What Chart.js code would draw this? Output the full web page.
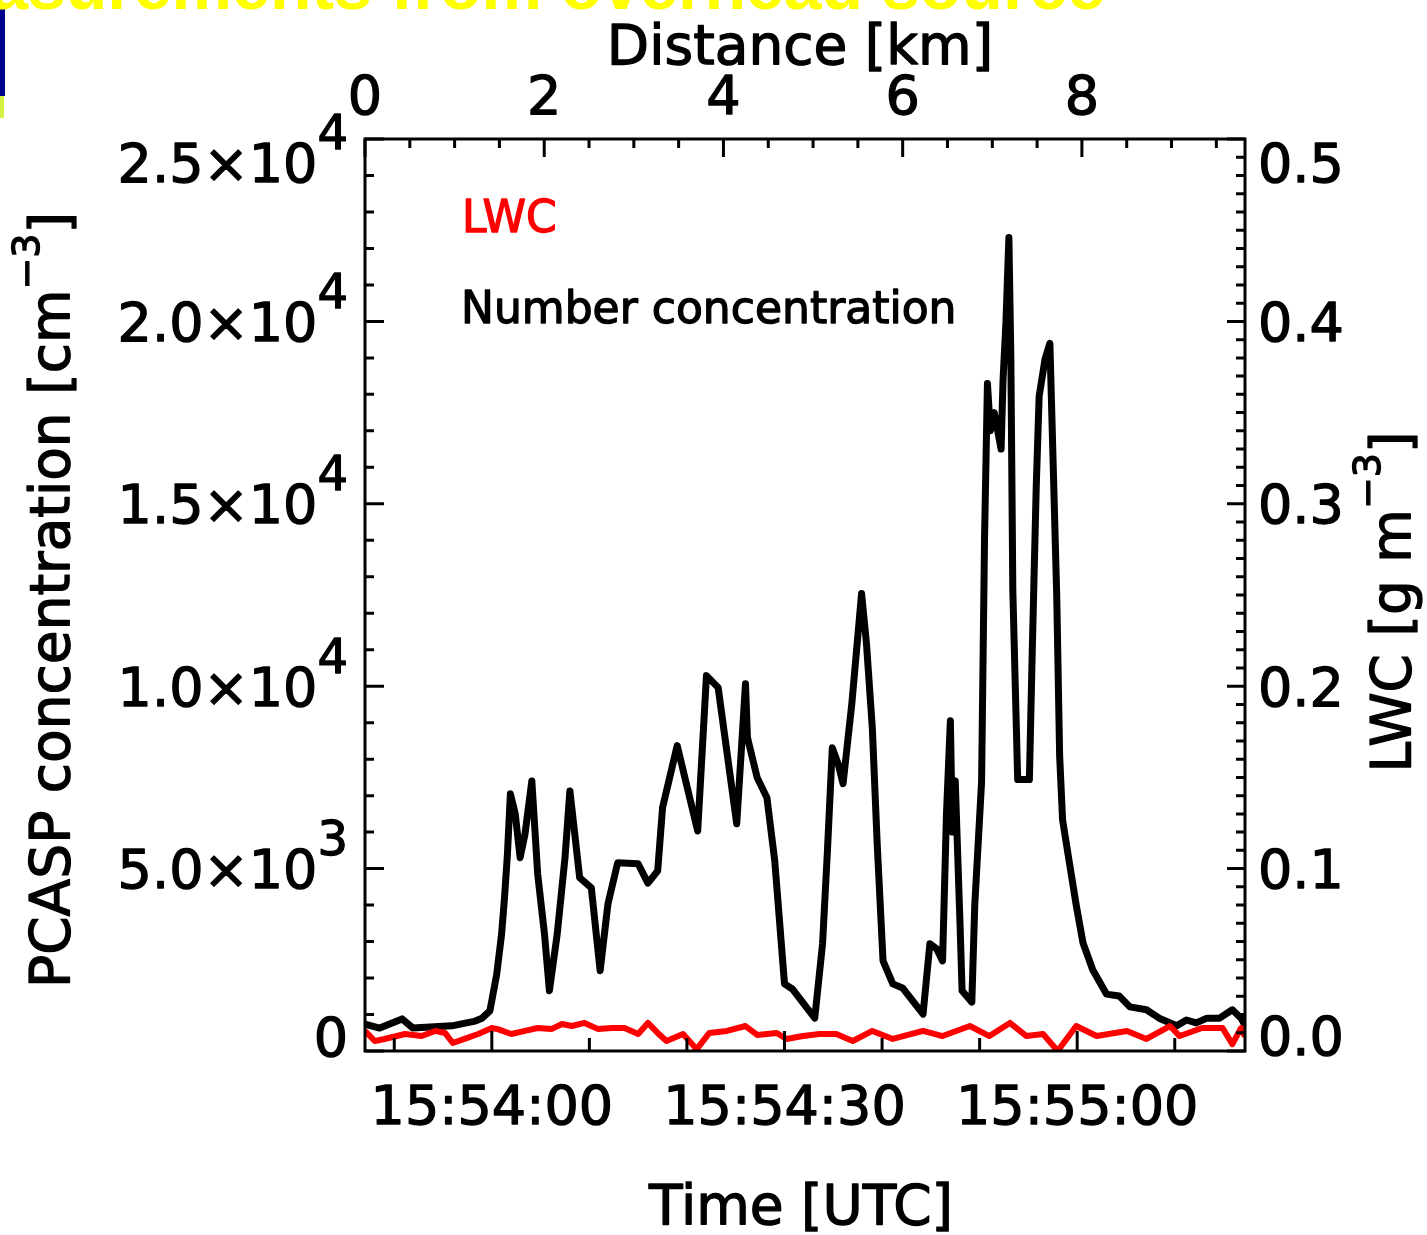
<!DOCTYPE html>
<html><head><meta charset="utf-8">
<script src="https://cdn.jsdelivr.net/npm/chart.js@4"></script>
<style>html,body{margin:0;padding:0;background:#fff;}canvas{display:block}</style>
</head><body>
<canvas id="c" width="1427" height="1235"></canvas>
<script>
// Time in seconds relative to 15:54:00 UTC
const pcaspTime = [-13.0,-11.5,-9.2,-8.1,-4.1,-1.7,-1.0,-0.2,0.5,1.0,1.3,1.6,1.9,2.4,2.9,3.4,4.1,4.7,5.4,5.9,6.7,7.5,8.0,8.5,9.0,10.2,11.1,11.9,12.9,15.0,16.0,17.0,17.5,19.0,21.1,22.0,23.2,25.1,26.0,26.2,27.2,28.2,29.0,30.0,30.8,33.1,33.9,34.4,34.9,35.5,36.0,36.9,37.9,38.4,39.0,39.5,40.1,41.1,42.1,44.2,44.9,45.6,46.2,46.6,47.0,47.2,47.5,48.0,48.2,49.2,49.5,50.2,50.5,50.8,51.1,51.5,52.2,52.4,52.7,53.0,53.2,53.4,53.9,55.1,55.4,55.8,56.1,56.7,57.2,57.5,57.9,58.2,58.5,59.2,59.9,60.6,61.6,63.0,64.3,65.4,67.1,68.4,70.2,71.2,72.2,73.3,74.6,75.9,76.8,77.2];
// PCASP number concentration [cm^-3]
const pcaspConc = [740,630,880,630,690,820,900,1100,2100,3200,4200,5400,7050,6500,5300,5950,7400,4850,3200,1650,3200,5300,7130,5950,4750,4470,2200,4030,5160,5130,4600,4940,6670,8370,6030,10290,9960,6230,10070,8590,7490,6940,5210,1840,1700,900,2940,5490,8310,7870,7330,9520,12540,11170,8860,5680,2470,1840,1730,1010,2940,2800,2470,6500,9050,6000,7400,3400,1650,1340,4000,7380,14000,18300,17000,17500,16500,18400,20000,22300,19000,12650,7440,7440,11030,15450,17950,18960,19400,16460,12510,8100,6340,5160,4000,2960,2220,1560,1510,1210,1130,900,690,850,770,900,900,1130,900,700];
// LWC sample times (s after 15:54:00) and values [g m^-3]
const lwcTime = [-13.0,-12.0,-11.0,-8.9,-7.2,-5.8,-4.8,-4.0,-2.8,-1.4,0.0,0.6,2.0,3.4,4.7,6.1,7.2,8.2,9.5,10.9,12.3,13.6,15.0,16.0,17.0,17.9,19.6,21.0,22.3,24.1,26.0,27.2,29.2,30.2,31.9,33.6,35.3,37.0,39.0,41.1,44.2,46.2,49.0,51.0,53.1,54.8,56.5,58.0,59.9,62.0,65.1,67.1,69.5,70.5,72.8,74.9,75.9,76.8,77.2];
const lwcValue = [0.011,0.0055,0.0066,0.0093,0.0082,0.011,0.0099,0.0044,0.0066,0.0093,0.0126,0.012,0.0093,0.011,0.0126,0.012,0.0148,0.0137,0.0154,0.012,0.0126,0.0126,0.0093,0.0154,0.0099,0.0055,0.0093,0.001,0.0099,0.011,0.0137,0.0088,0.0099,0.0066,0.0082,0.0093,0.0093,0.0055,0.011,0.0066,0.011,0.0082,0.0137,0.0082,0.0154,0.0082,0.0093,0.0,0.0137,0.0082,0.011,0.0066,0.0137,0.0082,0.0126,0.0126,0.0038,0.0126,0.008];
// Axis ranges and tick labels
const timeRange = [-13.0, 77.2];
const timeTickValues = [0, 30, 60];
const timeTickLabels = ['15:54:00','15:54:30','15:55:00'];
const distRange = [0, 9.82];
const distTickValues = [0,2,4,6,8];
const distTickLabels = ['0','2','4','6','8'];
const concTickValues = [0,5000,10000,15000,20000,25000];
const concTickMant = ['0','5.0×10','1.0×10','1.5×10','2.0×10','2.5×10'];
const concTickExp = ['','3','4','4','4','4'];
const lwcTickValues = [0,0.1,0.2,0.3,0.4,0.5];
const lwcTickLabels = ['0.0','0.1','0.2','0.3','0.4','0.5'];

const F = 'DejaVu Sans';
const TH = 1.3; // text thickening stroke

function txt(ctx, s, x, y) {
  ctx.fillText(s, x, y);
  ctx.lineWidth = TH;
  ctx.strokeStyle = ctx.fillStyle;
  ctx.strokeText(s, x, y);
}

function supText(ctx, parts, x, y, align) {
  let total = 0;
  parts.forEach(p => { ctx.font = p[1] + 'px "' + F + '"'; total += ctx.measureText(p[0]).width; });
  let cx = align === 'right' ? x - total : (align === 'center' ? x - total / 2 : x);
  ctx.textAlign = 'left';
  parts.forEach(p => {
    ctx.font = p[1] + 'px "' + F + '"';
    txt(ctx, p[0], cx, y - p[2]);
    cx += ctx.measureText(p[0]).width;
  });
}

const deco = {
  id: 'deco',
  beforeDraw(chart) {
    const ctx = chart.ctx;
    ctx.save();
    ctx.fillStyle = '#fff';
    ctx.fillRect(0, 0, chart.width, chart.height);
    ctx.fillStyle = '#00008c';
    ctx.fillRect(0, 8, 5, 88);
    ctx.fillStyle = '#d8f040';
    ctx.fillRect(0, 96, 4, 22);
    ctx.fillStyle = '#ffff00';
    ctx.font = 'bold 68px "Liberation Sans"';
    ctx.textAlign = 'right';
    ctx.textBaseline = 'alphabetic';
    ctx.fillText('Measurements from overhead source', 1105, 9);
    ctx.restore();
  },
  afterDraw(chart) {
    const ctx = chart.ctx;
    const a = chart.chartArea;
    const sx = chart.scales.x, st = chart.scales.xTop, sy = chart.scales.y, sr = chart.scales.y2;
    ctx.save();
    ctx.strokeStyle = '#000';
    ctx.fillStyle = '#000';
    ctx.lineWidth = 3;
    ctx.lineCap = 'butt';
    ctx.strokeRect(a.left, a.top, a.right - a.left, a.bottom - a.top);
    ctx.beginPath();
    for (let v = 0; v <= 25000; v += 1000) {
      const p = sy.getPixelForValue(v), L = v % 5000 === 0 ? 19 : 9;
      ctx.moveTo(a.left, p); ctx.lineTo(a.left + L, p);
    }
    for (let i = 0; i <= 50; i++) {
      const p = sr.getPixelForValue(i / 100), L = i % 10 === 0 ? 18 : 9;
      ctx.moveTo(a.right, p); ctx.lineTo(a.right - L, p);
    }
    for (let i = 0; i * 0.5 <= distRange[1]; i++) {
      const p = st.getPixelForValue(i * 0.5), L = i % 4 === 0 ? 18 : 9;
      ctx.moveTo(p, a.top); ctx.lineTo(p, a.top + L);
    }
    for (let t = -10; t <= 70; t += 10) {
      const p = sx.getPixelForValue(t), L = t % 30 === 0 ? 20 : 13;
      ctx.moveTo(p, a.bottom); ctx.lineTo(p, a.bottom - L);
    }
    ctx.stroke();

    ctx.textBaseline = 'alphabetic';
    ctx.lineJoin = 'round';
    const cap = 19.5;
    concTickValues.forEach((v, i) => {
      let yc = sy.getPixelForValue(v);
      if (i === concTickValues.length - 1) yc += 23;
      if (i === 0) yc -= 15;
      const parts = [[concTickMant[i], 54, 0]];
      if (concTickExp[i]) parts.push([concTickExp[i], 48, 33]);
      supText(ctx, parts, 348, yc + cap, 'right');
    });
    ctx.font = '54px "' + F + '"';
    ctx.textAlign = 'left';
    lwcTickValues.forEach((v, i) => {
      let yc = sr.getPixelForValue(v);
      if (i === lwcTickValues.length - 1) yc += 23;
      if (i === 0) yc -= 16;
      txt(ctx, lwcTickLabels[i], 1258, yc + cap);
    });
    ctx.textAlign = 'center';
    timeTickValues.forEach((v, i) => {
      txt(ctx, timeTickLabels[i], sx.getPixelForValue(v), 1124);
    });
    distTickValues.forEach((v, i) => {
      txt(ctx, distTickLabels[i], st.getPixelForValue(v), 114);
    });
    ctx.font = '55px "' + F + '"';
    txt(ctx, 'Distance [km]', 800, 64);
    txt(ctx, 'Time [UTC]', 801, 1224);
    ctx.save();
    ctx.translate(69, 600);
    ctx.rotate(-Math.PI / 2);
    supText(ctx, [['PCASP concentration [cm', 55, 0], ['−3', 38, 30], [']', 55, 0]], 0, 0, 'center');
    ctx.restore();
    ctx.save();
    ctx.translate(1410, 602);
    ctx.rotate(-Math.PI / 2);
    supText(ctx, [['LWC [g m', 55, 0], ['−3', 38, 30], [']', 55, 0]], 0, 0, 'center');
    ctx.restore();
    ctx.font = '44px "' + F + '"';
    ctx.textAlign = 'left';
    ctx.fillStyle = '#ff0000';
    txt(ctx, 'LWC', 462, 232);
    ctx.fillStyle = '#000';
    txt(ctx, 'Number concentration', 461, 323);
    ctx.restore();
  }
};

new Chart(document.getElementById('c'), {
  type: 'line',
  data: {
    datasets: [
      {
        label: 'LWC',
        data: lwcTime.map((t, i) => ({ x: t, y: lwcValue[i] })),
        xAxisID: 'x', yAxisID: 'y2',
        borderColor: '#ff0000', borderWidth: 6, pointRadius: 0,
        tension: 0, borderJoinStyle: 'round', order: 0
      },
      {
        label: 'Number concentration',
        data: pcaspTime.map((t, i) => ({ x: t, y: pcaspConc[i] })),
        xAxisID: 'x', yAxisID: 'y',
        borderColor: '#000000', borderWidth: 7, pointRadius: 0,
        tension: 0, borderJoinStyle: 'round', order: 1
      }
    ]
  },
  options: {
    responsive: false,
    animation: false,
    devicePixelRatio: 1,
    layout: { padding: 0 },
    plugins: { legend: { display: false }, tooltip: { enabled: false } },
    scales: {
      x: {
        type: 'linear', position: 'bottom', min: timeRange[0], max: timeRange[1],
        grid: { display: false }, border: { display: false }, ticks: { display: false },
        afterFit: s => { s.height = 184; }
      },
      xTop: {
        type: 'linear', position: 'top', min: distRange[0], max: distRange[1],
        grid: { display: false }, border: { display: false }, ticks: { display: false },
        afterFit: s => { s.height = 139; }
      },
      y: {
        type: 'linear', position: 'left', min: 0, max: 25000,
        grid: { display: false }, border: { display: false }, ticks: { display: false },
        afterFit: s => { s.width = 365; }
      },
      y2: {
        type: 'linear', position: 'right', min: 0, max: 0.5,
        grid: { display: false }, border: { display: false }, ticks: { display: false },
        afterFit: s => { s.width = 182; }
      }
    }
  },
  plugins: [deco]
});
</script>
</body></html>
